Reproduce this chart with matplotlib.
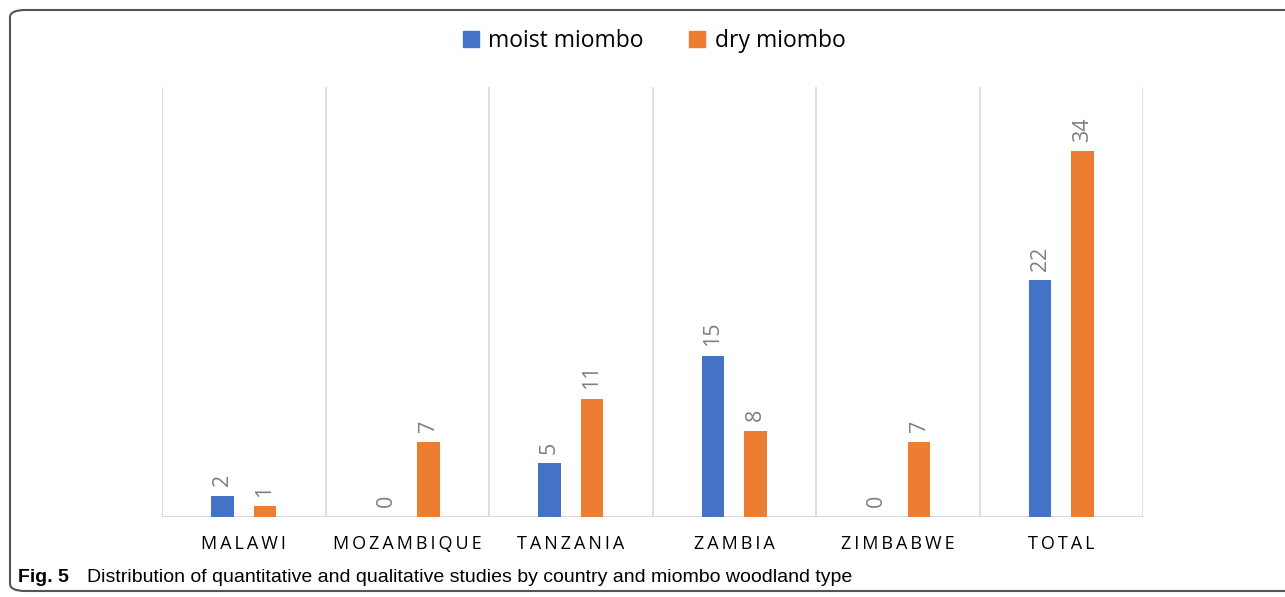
import matplotlib.pyplot as plt
from matplotlib.patches import FancyBboxPatch, Patch
import numpy as np

countries = ["MALAWI", "MOZAMBIQUE", "TANZANIA", "ZAMBIA", "ZIMBABWE", "TOTAL"]
moist = [2, 0, 5, 15, 0, 22]
dry = [1, 7, 11, 8, 7, 34]

blue = "#4472C4"
orange = "#ED7D31"
grid_col = "#D9D9D9"
label_col = "#7F7F7F"

plt.rcParams['font.family'] = ['Open Sans', 'DejaVu Sans']

fig = plt.figure(figsize=(12.85, 5.97), dpi=100)
ax = fig.add_axes([0.1261, 0.134, 0.7634, 0.7203])

x = np.arange(len(countries))
w = 0.14
off = 0.13
b1 = ax.bar(x - off, moist, w, color=blue)
b2 = ax.bar(x + off, dry, w, color=orange)

# value labels, rotated like the original
for bars, vals in ((b1, moist), (b2, dry)):
    for rect, v in zip(bars, vals):
        ax.annotate(str(v), (rect.get_x() + rect.get_width() / 2, rect.get_height()),
                    xytext=(0, 7), textcoords="offset points", rotation=90,
                    ha="center", va="bottom", fontsize=15.5, color=label_col)

ax.set_xlim(-0.5, len(countries) - 0.5)
ax.set_ylim(0, 40)
for b in np.arange(-0.5, len(countries), 1):
    ax.axvline(b, color=grid_col, lw=1.2, zorder=0)
for s in ax.spines.values():
    s.set_visible(False)
ax.axhline(0, color=grid_col, lw=1.5, zorder=0)
ax.set_yticks([])
ax.set_xticks([])
for i, c in enumerate(countries):
    ax.text(i, -0.062, "\u2009".join(c), transform=ax.get_xaxis_transform(),
            ha="center", va="center", fontsize=13, color="black")

handles = [Patch(color=blue, label="moist miombo"), Patch(color=orange, label="dry miombo")]
fig.legend(handles=handles, loc="center", bbox_to_anchor=(0.509, 0.931), ncol=2,
           frameon=False, fontsize=16.5, handlelength=0.7, handleheight=0.7,
           handletextpad=0.4, columnspacing=2.0)

# rounded frame round the whole figure
frame = FancyBboxPatch((10 / 1285, 6 / 597), 1.1, 1 - 16 / 597,
                       boxstyle="round,pad=0,rounding_size=0.012",
                       transform=fig.transFigure, fill=False,
                       edgecolor="#555555", lw=1.5, clip_on=False)
fig.patches.append(frame)

fig.text(18 / 1285, 1 - 578 / 597, "Fig. 5", fontsize=14, fontweight="bold",
         family=['Liberation Sans', 'DejaVu Sans'], va="center", ha="left")
fig.text(87 / 1285, 1 - 578 / 597,
         "Distribution of quantitative and qualitative studies by country and miombo woodland type",
         fontsize=14, family=['Liberation Sans', 'DejaVu Sans'], va="center", ha="left")

fig.savefig("out.png", dpi=100)
